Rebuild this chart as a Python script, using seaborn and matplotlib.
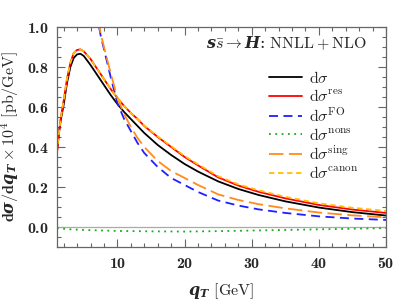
import numpy as np
import pandas as pd
import matplotlib
matplotlib.use("Agg")
import matplotlib.pyplot as plt
import seaborn as sns
from matplotlib.ticker import MultipleLocator, FuncFormatter

# s sbar -> H, NNLL+NLO qT spectrum (values in units of 1e-4 pb/GeV)
q_full = [1.0, 1.3, 1.6, 2.0, 2.5, 3.0, 3.5, 4.0, 4.5, 5.0, 6, 7, 8, 9, 10, 11, 12, 13, 14,
          16, 18, 20, 22, 25, 28, 31, 35, 40, 45, 50]
dsig = [0.37, 0.47, 0.54, 0.61, 0.72, 0.80, 0.845, 0.863, 0.866, 0.855, 0.81, 0.76, 0.71,
        0.66, 0.615, 0.575, 0.54, 0.505, 0.47, 0.41, 0.36, 0.315, 0.277, 0.228, 0.19, 0.16,
        0.128, 0.097, 0.074, 0.057]
dsig_res = [0.37, 0.47, 0.55, 0.63, 0.74, 0.82, 0.87, 0.885, 0.888, 0.878, 0.84, 0.79, 0.74,
            0.69, 0.645, 0.605, 0.57, 0.54, 0.505, 0.45, 0.40, 0.35, 0.308, 0.248, 0.207,
            0.176, 0.143, 0.11, 0.087, 0.07]
dsig_canon = [0.37, 0.47, 0.55, 0.63, 0.74, 0.82, 0.87, 0.885, 0.888, 0.878, 0.84, 0.79, 0.74,
              0.69, 0.645, 0.605, 0.57, 0.54, 0.507, 0.453, 0.404, 0.355, 0.313, 0.254, 0.213,
              0.183, 0.151, 0.118, 0.096, 0.08]
q_nons = [1, 3, 5, 10, 15, 20, 25, 30, 35, 40, 45, 50]
dsig_nons = [-0.006, -0.012, -0.015, -0.02, -0.022, -0.023, -0.021, -0.018, -0.015, -0.012,
             -0.009, -0.006]

q_fo = [6.0, 6.5, 7, 7.5, 8, 9, 10, 11, 12, 13, 14, 16, 18, 20, 22, 25, 28, 31, 35, 40, 45, 50]
dsig_fo = [1.35, 1.17, 1.05, 0.96, 0.89, 0.75, 0.62, 0.54, 0.48, 0.42, 0.37, 0.30, 0.245,
           0.21, 0.175, 0.132, 0.107, 0.088, 0.07, 0.053, 0.042, 0.035]
dsig_sing = [1.35, 1.18, 1.06, 0.97, 0.90, 0.77, 0.645, 0.565, 0.5, 0.445, 0.4, 0.33, 0.28,
             0.245, 0.21, 0.163, 0.135, 0.114, 0.093, 0.072, 0.058, 0.048]

sns.set_style("ticks")
plt.rcParams["font.family"] = ["DejaVu Serif"]
plt.rcParams["mathtext.fontset"] = "custom"
plt.rcParams["mathtext.rm"] = "cmr10"
plt.rcParams["mathtext.it"] = "cmmi10"
plt.rcParams["mathtext.bf"] = "cmb10"
plt.rcParams["mathtext.bfit"] = "DejaVu Serif:italic:bold"
plt.rcParams["mathtext.fallback"] = "cm"

fig = plt.figure(figsize=(3.98, 3.03), dpi=100)
ax = fig.add_axes([0.143, 0.185, 0.827, 0.726])

ax.axhline(0, color="#aaaaaa", lw=0.9, zorder=1)

sns.lineplot(x=q_full, y=dsig, ax=ax, color="black", lw=1.3,
             label=r"$\mathrm{d}\sigma$")
sns.lineplot(x=q_full, y=dsig_res, ax=ax, color="red", lw=1.3,
             label=r"$\mathrm{d}\sigma^{\mathrm{res}}$")
sns.lineplot(x=q_fo, y=dsig_fo, ax=ax, color="#1f1fff", lw=1.3,
             linestyle=(0, (5, 3)), label=r"$\mathrm{d}\sigma^{\mathrm{FO}}$")
sns.lineplot(x=q_nons, y=dsig_nons, ax=ax, color="#1aaa1a", lw=1.3,
             linestyle=(0, (1, 2.5)), label=r"$\mathrm{d}\sigma^{\mathrm{nons}}$")
sns.lineplot(x=q_fo, y=dsig_sing, ax=ax, color="#ff8c1a", lw=1.3,
             linestyle=(0, (8, 3)), label=r"$\mathrm{d}\sigma^{\mathrm{sing}}$")
sns.lineplot(x=q_full, y=dsig_canon, ax=ax, color="#ffbf00", lw=1.3,
             linestyle=(0, (3, 2)), label=r"$\mathrm{d}\sigma^{\mathrm{canon}}$")

ax.set_xlim(1, 50)
ax.set_ylim(-0.1, 1.0)
ax.xaxis.set_major_locator(MultipleLocator(10))
ax.xaxis.set_minor_locator(MultipleLocator(2))
ax.yaxis.set_major_locator(MultipleLocator(0.2))
ax.yaxis.set_minor_locator(MultipleLocator(0.05))
ax.xaxis.set_major_formatter(FuncFormatter(lambda v, p: rf"$\mathbf{{{v:.0f}}}$"))
ax.yaxis.set_major_formatter(FuncFormatter(lambda v, p: rf"$\mathbf{{{v:.1f}}}$"))
ax.tick_params(which="both", direction="in", top=True, right=True, color="#666666",
               labelsize=11.5, pad=6)
ax.tick_params(which="major", length=6, width=0.8)
ax.tick_params(which="minor", length=3, width=0.8)
for s in ax.spines.values():
    s.set_color("#666666")
    s.set_linewidth(0.9)

ax.set_xlabel(r"$\boldsymbol{q}_{\boldsymbol{T}}\ \mathrm{[GeV]}$", fontsize=11.5, labelpad=6)
ax.set_ylabel(r"$\mathbf{d}\boldsymbol{\sigma}/\mathbf{d}\boldsymbol{q}_{\boldsymbol{T}}"
              r"\times\mathrm{10^4}\ \mathrm{[pb/GeV]}$",
              fontsize=11.5, labelpad=4)

ax.text(0.942, 0.925, r"$\boldsymbol{s\bar{s}\rightarrow H}$: $\mathrm{NNLL+NLO}$",
        transform=ax.transAxes, ha="right", va="center", fontsize=11.5)

ax.legend(loc="upper right", bbox_to_anchor=(0.935, 0.835), frameon=False, fontsize=11.5,
          handlelength=2.1, handletextpad=0.4, labelspacing=0.1, borderaxespad=0)

fig.savefig("out.png", dpi=100)
